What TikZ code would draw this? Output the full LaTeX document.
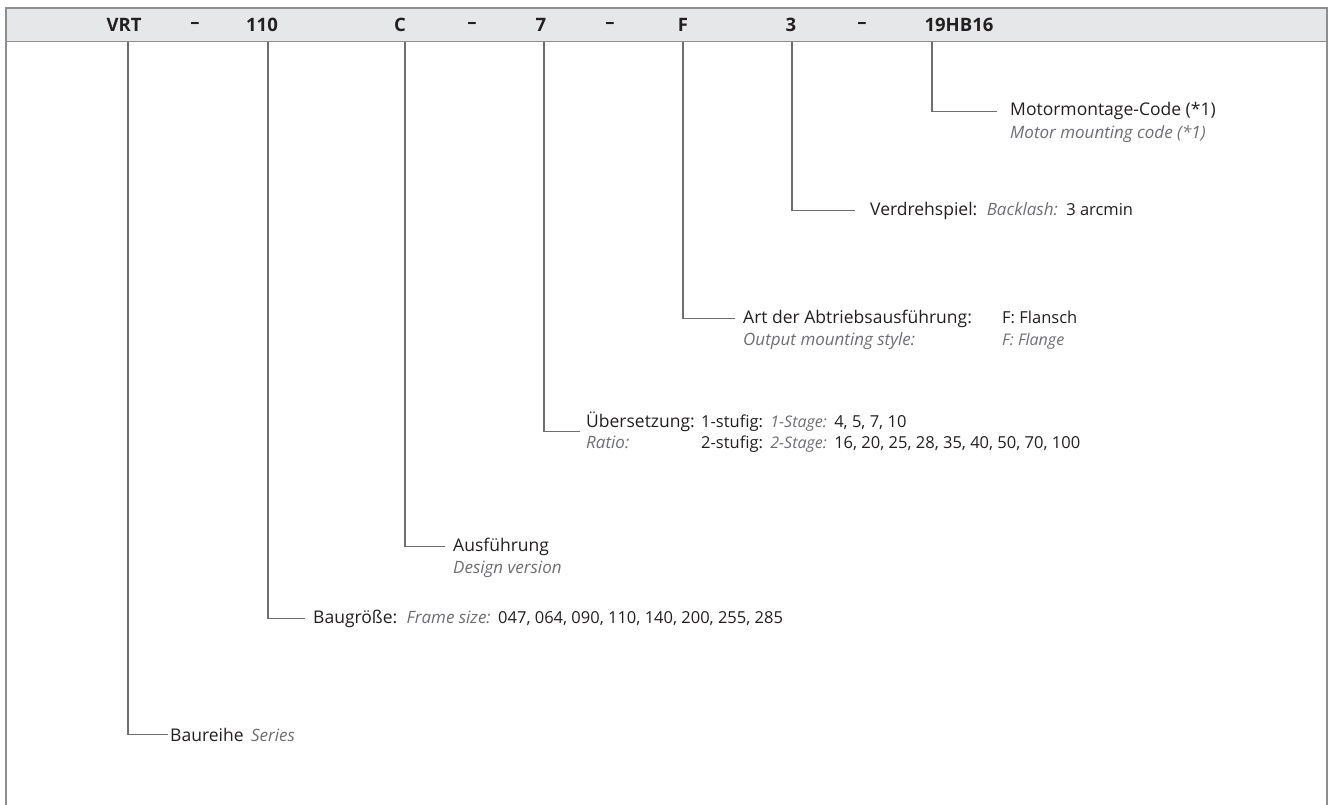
\documentclass[tikz,border=0pt]{standalone}
\usepackage{fontspec}
\setmainfont{Open Sans}
\usetikzlibrary{positioning}
\definecolor{hdrfill}{HTML}{E6E7E8}
\definecolor{framegray}{HTML}{8E8E8E}
\definecolor{linegray}{HTML}{6D6E71}
\definecolor{txtblack}{HTML}{231F20}
\definecolor{engray}{HTML}{6D6E71}
\tikzset{
  code/.style={font=\fontsize{18.5}{21}\selectfont\bfseries, text=txtblack, inner sep=0pt},
  lbl/.style={font=\fontsize{17.5}{21}\selectfont, text=txtblack, inner sep=0pt, anchor=base west},
  en/.style={font=\fontsize{17}{20}\selectfont\itshape, text=engray, inner sep=0pt, anchor=base west},
  val/.style={font=\fontsize{16.5}{19}\selectfont, text=txtblack, inner sep=0pt, anchor=base west},
  enval/.style={font=\fontsize{16}{19}\selectfont\itshape, text=engray, inner sep=0pt, anchor=base west},
  leader/.style={draw=linegray, line width=1.1pt},
}
\begin{document}
\begin{tikzpicture}[x=1pt, y=-1pt]
  \useasboundingbox (0,0) rectangle (1332,805);
  % header band and frame
  \fill[hdrfill] (6,8) rectangle (1327,42);
  \draw[framegray, line width=1.4pt] (6,805) -- (6,8) -- (1327,8) -- (1327,805);
  \draw[framegray, line width=1pt] (6,42) -- (1327,42);

  % type code
  \node[code] (cVRT) at (124,25) {VRT};
  \node[code] (d1) at (195,25) {–};
  \node[code] (c110) at (262,25) {110};
  \node[code] (cC) at (400,25) {C};
  \node[code] (d2) at (472,25) {–};
  \node[code] (c7) at (541,25) {7};
  \node[code] (d3) at (610,25) {–};
  \node[code] (cF) at (683,25) {F};
  \node[code] (c3) at (791,25) {3};
  \node[code] (d4) at (862,25) {–};
  \node[code] (cMot) at (959,25) {19HB16};

  \coordinate (tVRT) at (128,42);
  \coordinate (t110) at (268,42);
  \coordinate (tC) at (405,42);
  \coordinate (t7) at (544,42);
  \coordinate (tF) at (683,42);
  \coordinate (t3) at (792,42);
  \coordinate (tMot) at (932,42);

  % Motormontage
  \node[lbl] (motor) at (1010,116) {Motormontage-Code (*1)};
  \node[en] (motorEn) at (1010,139) {Motor mounting code (*1)};

  % Verdrehspiel
  \node[lbl] (backl) at (870,215) {Verdrehspiel:};
  \node[en, base right=9pt of backl] (backlEn) {Backlash:};
  \node[val, base right=8pt of backlEn] (backlVal) {3 arcmin};

  % Abtrieb
  \node[lbl] (outp) at (743,323) {Art der Abtriebsausführung:};
  \node[val] (outpVal) at (1002,323) {F: Flansch};
  \node[en] (outpEn) at (743,345) {Output mounting style:};
  \node[enval] (outpEnVal) at (1002,345) {F: Flange};

  % Uebersetzung
  \node[lbl] (ratio) at (586,427) {Übersetzung:};
  \node[val] (st1) at (701,427) {1-stufig:};
  \node[enval, base right=7pt of st1] (st1En) {1-Stage:};
  \node[val, base right=7pt of st1En] (st1Val) {4, 5, 7, 10};
  \node[en] (ratioEn) at (586,448) {Ratio:};
  \node[val] (st2) at (701,448) {2-stufig:};
  \node[enval] (st2En) at (st1En.base west |- st2.base) {2-Stage:};
  \node[val] (st2Val) at (st1Val.base west |- st2.base) {16, 20, 25, 28, 35, 40, 50, 70, 100};

  % Ausfuehrung
  \node[lbl] (design) at (453,551) {Ausführung};
  \node[en] (designEn) at (453,573) {Design version};

  % Baugroesse
  \node[lbl] (frame) at (313,623) {Baugröße:};
  \node[en, base right=9pt of frame] (frameEn) {Frame size:};
  \node[val, base right=7pt of frameEn] (frameVal) {047, 064, 090, 110, 140, 200, 255, 285};

  % Baureihe
  \node[lbl] (series) at (170,741) {Baureihe};
  \node[en, base right=7pt of series] (seriesEn) {Series};

  % leaders
  \draw[leader] (tMot) |- ([xshift=-13pt]motor.west);
  \draw[leader] (t3) |- ([xshift=-15pt]backl.west);
  \draw[leader] (tF) |- ([xshift=-8pt]outp.west);
  \draw[leader] (t7) |- ([xshift=-6pt, yshift=-10pt]ratio.west);
  \draw[leader] (tC) |- ([xshift=-8pt]design.west);
  \draw[leader] (t110) |- ([xshift=-8pt]frame.west);
  \draw[leader] (tVRT) |- ([xshift=-2pt]series.west);
\end{tikzpicture}
\end{document}
